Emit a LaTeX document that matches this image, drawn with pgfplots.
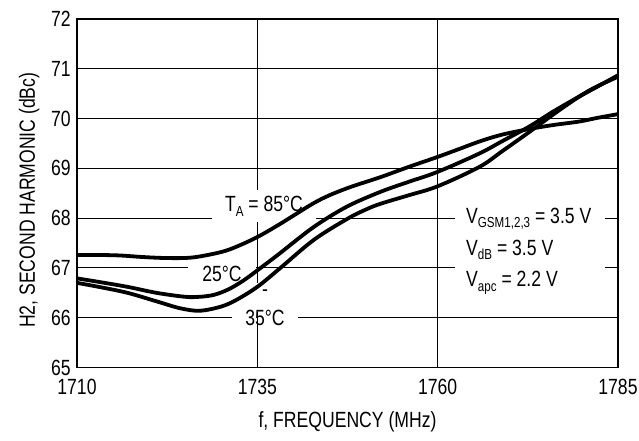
\documentclass[border=0pt]{standalone}
\usepackage{pgfplots}
\pgfplotsset{compat=1.18}
\usepackage{fontspec}
\setmainfont{Liberation Sans}[FakeStretch=0.8]
\newcommand\sub[1]{\raisebox{-4.5bp}{\fontsize{14.5bp}{15bp}\selectfont #1}}
\begin{document}
\fontsize{22bp}{26bp}\selectfont
\begin{tikzpicture}
\path[use as bounding box] (-77bp,-73.5bp) rectangle (562bp,367.5bp);
\begin{axis}[
  at={(0,0)}, anchor=south west,
  scale only axis, width=541bp, height=348.5bp,
  xmin=1710, xmax=1785, ymin=65, ymax=72,
  xtick={1710,1735,1760,1785}, ytick={65,66,...,72},
  major tick length=0pt,
  grid=major,
  major grid style={black, line width=1.1bp},
  axis line style={line width=1.6bp},
  /pgf/number format/assume math mode=true,
  /pgf/number format/1000 sep={},
  xticklabel style={yshift=-4.5bp},
  yticklabel style={xshift=1.3bp},
  xlabel={f, FREQUENCY (MHz)},
  ylabel={H2, SECOND HARMONIC (dBc)},
  xlabel style={at={(axis description cs:0.5,0)}, anchor=north, yshift=-36.6bp},
  ylabel style={at={(axis description cs:-0.0556,0.48)}, anchor=south},
]
% labels
\node[anchor=base, fill=white, inner xsep=13bp, inner ysep=6bp] at (axis cs:1735.93,68.13) {T\sub{A} = 85°C};
\node[anchor=base, fill=white, inner xsep=14bp, inner ysep=4bp] at (axis cs:1730.1,66.72) {25°C};
\node[fill=white, inner sep=0pt, minimum width=66bp, minimum height=47bp] at (axis cs:1736.06,66.225) {};
\node[inner sep=0pt] at (axis cs:1736.06,66.50) {-};
\node[anchor=base, inner sep=0pt] at (axis cs:1736.06,65.853) {35°C};
\draw[black, line width=1.1bp] (axis cs:1735,65) -- (axis cs:1735,66.11);
\node[fill=white, inner sep=0pt, minimum width=150bp, minimum height=95bp] at (axis cs:1772.8,67.41) {};
\node[anchor=base west, inner sep=0pt] at (axis cs:1763.93,67.896) {V\sub{GSM1,2,3} = 3.5 V};
\node[anchor=base west, inner sep=0pt] at (axis cs:1763.93,67.259) {V\sub{dB} = 3.5 V};
\node[anchor=base west, inner sep=0pt] at (axis cs:1763.93,66.622) {V\sub{apc} = 2.2 V};
% 85 C
\addplot[black, line width=3.8bp, smooth, tension=0.55, line join=round] coordinates {
(1710,67.26) (1713,67.26) (1716,67.25) (1719,67.22) (1722,67.20) (1725,67.20)
(1727,67.23) (1730,67.32) (1732,67.42) (1735,67.62) (1738,67.87) (1740,68.05)
(1742.8,68.30) (1745,68.46) (1748,68.63) (1752,68.82) (1756,69.03) (1760,69.23)
(1763,69.39) (1766,69.55) (1769,69.68) (1772.7,69.79) (1776,69.87) (1779.6,69.94)
(1782,70.01) (1785,70.09)};
% 25 C
\addplot[black, line width=3.8bp, smooth, tension=0.55, line join=round] coordinates {
(1710,66.79) (1713,66.72) (1717,66.62) (1721,66.50) (1725,66.42) (1727,66.42)
(1729,66.46) (1731,66.57) (1733,66.74) (1735,66.95) (1738,67.28) (1742.8,67.82)
(1747.4,68.23) (1752.1,68.53) (1756,68.73) (1760,68.93) (1765.8,69.30) (1769,69.55)
(1772.7,69.84) (1776,70.14) (1779.6,70.44) (1782,70.63) (1785,70.87)};
% -35 C
\addplot[black, line width=3.8bp, smooth, tension=0.55, line join=round] coordinates {
(1710,66.70) (1713,66.62) (1717,66.50) (1721,66.33) (1724.3,66.19) (1727,66.14)
(1729.9,66.22) (1732,66.35) (1735,66.62) (1738.2,67.0) (1742.8,67.56) (1747.4,67.98)
(1750,68.17) (1752.1,68.29) (1756,68.46) (1760,68.64) (1765.8,69.03) (1769,69.35)
(1772.7,69.73) (1776,70.08) (1779.6,70.44) (1782,70.64) (1785,70.84)};
\end{axis}
\end{tikzpicture}
\end{document}
